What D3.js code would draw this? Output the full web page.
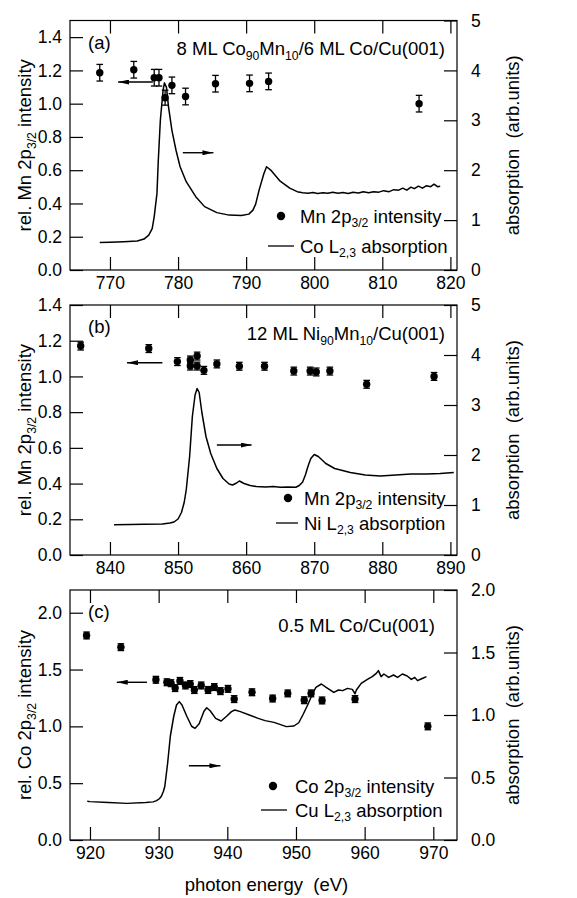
<!DOCTYPE html>
<html>
<head>
<meta charset="utf-8">
<script src="https://cdn.jsdelivr.net/npm/d3@7"></script>
<style>
  body { margin: 0; background: #fff; }
  text { font-family: "Liberation Sans", Arial, Helvetica, sans-serif; fill: #000; white-space: pre; }
</style>
</head>
<body>
<script>
// ---- panel (a): 8 ML Co90Mn10/6 ML Co/Cu(001) ----
var aE   = [768.5, 773.5, 776.5, 777.2, 778.1, 779.1, 781.1, 785.5, 790.5, 793.3, 815.4];
var aI   = [1.186, 1.204, 1.156, 1.156, 1.036, 1.110, 1.043, 1.120, 1.122, 1.134, 1.000];
var aErr = [0.050, 0.050, 0.050, 0.050, 0.045, 0.050, 0.050, 0.050, 0.050, 0.050, 0.050];
var aAbs = [[768.5,0.55],[770,0.555],[772,0.565],[774,0.58],[775,0.62],[775.7,0.70],[776.2,0.83],
  [776.5,1.07],[776.9,1.53],[777.1,2.2],[777.4,3.0],[777.8,3.6],[778.0,3.75],[778.3,3.66],[778.6,3.27],
  [779.1,2.8],[779.7,2.4],[780.3,2.07],[781.2,1.77],[782.6,1.47],[783.9,1.27],[785.7,1.15],[787.5,1.10],
  [789.3,1.09],[790.4,1.12],[791.0,1.2],[791.4,1.32],[791.9,1.6],[792.6,1.93],[793.0,2.07],[793.7,1.99],
  [795.0,1.78],[796.4,1.64],[797.5,1.57],[798.3,1.55],[799.1,1.54],[799.8,1.555],[800.5,1.535],[801.3,1.55],
  [802,1.54],[802.7,1.56],[803.5,1.54],[804.2,1.555],[805,1.535],[805.7,1.56],[806.5,1.545],[807.2,1.57],
  [808,1.55],[808.7,1.57],[809.5,1.56],[810.2,1.59],[811,1.57],[811.7,1.61],[812.4,1.6],[813,1.64],
  [813.6,1.6],[814.2,1.66],[814.7,1.63],[815.3,1.68],[815.9,1.64],[816.5,1.69],[817.1,1.67],[817.6,1.72],
  [818.1,1.67],[818.5,1.68]];
var aXTicks = [770, 780, 790, 800, 810, 820];
var aLTicks = [0, 0.2, 0.4, 0.6, 0.8, 1.0, 1.2, 1.4];
var aRTicks = [0, 1, 2, 3, 4, 5];

// ---- panel (b): 12 ML Ni90Mn10/Cu(001) ----
var bE   = [835.7, 845.7, 849.9, 851.8, 851.8, 852.8, 852.8, 853.8, 855.7, 859.0, 862.7, 867.0, 869.4, 870.3, 872.3, 877.7, 887.6];
var bI   = [1.170, 1.156, 1.083, 1.092, 1.058, 1.114, 1.058, 1.034, 1.070, 1.057, 1.057, 1.030, 1.030, 1.025, 1.030, 0.956, 1.000];
var bErr = [0.022, 0.022, 0.022, 0.022, 0.022, 0.022, 0.022, 0.022, 0.022, 0.022, 0.022, 0.022, 0.022, 0.022, 0.022, 0.022, 0.022];
var bAbs = [[840.6,0.607],[843,0.61],[845,0.615],[847.7,0.62],[848.8,0.64],[849.4,0.66],[850,0.72],
  [850.5,0.85],[850.9,1.05],[851.2,1.3],[851.7,1.97],[852.1,2.77],[852.5,3.2],[852.8,3.33],[853.1,3.25],
  [853.5,2.85],[854.1,2.37],[854.8,2.03],[855.7,1.73],[856.6,1.53],[857.5,1.42],[858.0,1.40],[858.6,1.44],
  [859.0,1.48],[859.7,1.43],[860.6,1.39],[861.5,1.37],[862.8,1.36],[864,1.37],[865,1.355],[866.2,1.36],
  [867.3,1.355],[867.8,1.39],[868.3,1.46],[868.7,1.6],[869.1,1.78],[869.5,1.93],[870.0,2.01],[870.6,1.97],
  [871.7,1.83],[873.0,1.73],[875.3,1.65],[877.5,1.60],[879.7,1.58],[882,1.6],[884.2,1.62],[886.5,1.62],
  [888.5,1.63],[890.5,1.65]];
var bXTicks = [840, 850, 860, 870, 880, 890];
var bLTicks = [0, 0.2, 0.4, 0.6, 0.8, 1.0, 1.2, 1.4];
var bRTicks = [0, 1, 2, 3, 4, 5];

// ---- panel (c): 0.5 ML Co/Cu(001) ----
var cE   = [919.5, 924.5, 929.6, 931.2, 931.8, 932.4, 933.1, 933.9, 934.6, 935.2, 936.2, 937.2, 938.1, 939.0, 940.1, 941.0, 943.6, 946.6, 948.8, 951.2, 952.2, 953.8, 958.6, 969.2];
var cI   = [1.80, 1.697, 1.41, 1.388, 1.38, 1.337, 1.40, 1.36, 1.372, 1.32, 1.36, 1.32, 1.346, 1.31, 1.33, 1.24, 1.30, 1.245, 1.29, 1.23, 1.29, 1.228, 1.24, 1.0];
var cErr = [0.03, 0.03, 0.03, 0.03, 0.03, 0.03, 0.03, 0.03, 0.03, 0.03, 0.03, 0.03, 0.03, 0.03, 0.03, 0.03, 0.03, 0.03, 0.03, 0.03, 0.03, 0.03, 0.03, 0.03];
var cAbs = [[919.6,0.31],[920,0.307],[922.7,0.30],[925.4,0.293],[928.1,0.30],[929.2,0.305],[929.7,0.315],
  [930.1,0.33],[930.4,0.35],[930.7,0.39],[930.9,0.43],[931.3,0.61],[931.7,0.83],[932.2,0.99],[932.6,1.08],
  [933.0,1.107],[933.4,1.08],[934.1,0.99],[934.8,0.91],[935.3,0.893],[935.9,0.93],[936.6,1.03],[937.0,1.058],
  [937.5,1.034],[938.3,0.973],[939.1,0.952],[939.9,0.99],[940.6,1.027],[941.1,1.04],[941.9,1.027],[943.2,1.0],
  [944.5,0.973],[945.5,0.955],[946.8,0.941],[948.6,0.907],[949.7,0.912],[950.4,0.938],[951.0,1.0],[951.7,1.08],
  [952.4,1.168],[952.9,1.221],[953.7,1.248],[954.4,1.221],[955.5,1.181],[956.2,1.2],[956.8,1.195],[957.5,1.213],
  [958.2,1.205],[958.6,1.17],[958.8,1.2],[959.5,1.253],[960.4,1.285],[961.1,1.307],[961.7,1.333],[962.0,1.355],
  [962.4,1.307],[962.8,1.328],[963.5,1.301],[964.2,1.32],[964.8,1.301],[965.5,1.328],[966.2,1.312],[966.8,1.285],
  [967.3,1.301],[967.7,1.275],[968.3,1.29],[969.0,1.307]];
var cXTicks = [920, 930, 940, 950, 960, 970];
var cLTicks = [0, 0.5, 1.0, 1.5, 2.0];
var cRTicks = [0, 0.5, 1.0, 1.5, 2.0];

// arrows: [x from, x to, y value] ; first on left scale, second on right scale
var aArrows = [[776.3, 771.2, 1.13], [780.7, 785.2, 2.35]];
var bArrows = [[847.7, 842.5, 1.077], [855.7, 860.8, 2.2]];
var cArrows = [[928.3, 923.9, 1.388], [934.4, 939.0, 0.594]];

var w = 577, h = 898;
var plotL = 70, plotR = 457, tickLen = 13, fs = 18.5, tfs = 17.5;

var svg = d3.select("body").append("svg")
            .attr("width", w)
            .attr("height", h);

svg.append("defs").append("marker")
   .attr("id", "head")
   .attr("viewBox", "0 0 11 5")
   .attr("refX", 11).attr("refY", 2.5)
   .attr("markerWidth", 11).attr("markerHeight", 5)
   .attr("markerUnits", "userSpaceOnUse")
   .attr("orient", "auto")
   .append("path").attr("d", "M0,0L11,2.5L0,5Z").attr("fill", "#000");

/* writes "Mn 2p_{3/2}" style strings as tspans with subscripts */
function rich(sel, str, size) {
  var parts = str.split(/(_\{[^}]*\})/), shift = 0;
  parts.forEach(function(p) {
    if (!p) return;
    var sub = p.indexOf("_{") === 0;
    var t = sel.append("tspan").text(sub ? p.slice(2, -1) : p);
    var target = sub ? size * 0.26 : 0;
    if (target !== shift) { t.attr("dy", target - shift); shift = target; }
    if (sub) t.attr("font-size", size * 0.66);
  });
  return sel;
}

var makePanel = function(p) {
  var x  = d3.scaleLinear().domain(p.xDom).range([plotL, plotR]);
  var yL = d3.scaleLinear().domain(p.yLDom).range([p.bottom, p.top]);
  var yR = d3.scaleLinear().domain(p.yRDom).range([p.bottom, p.top]);
  var g = svg.append("g");

  /*** Axes, all ticks point inward ***/
  g.append("g").attr("transform", "translate(0," + p.bottom + ")")
     .call(d3.axisBottom(x).tickValues(p.xTicks).tickSizeInner(-tickLen).tickSizeOuter(0)
             .tickPadding(7).tickFormat(d3.format("d")));
  g.append("g").attr("transform", "translate(0," + p.top + ")")
     .call(d3.axisTop(x).tickValues(p.xTicks).tickSizeInner(-tickLen).tickSizeOuter(0).tickFormat(""));
  g.append("g").attr("transform", "translate(" + plotL + ",0)")
     .call(d3.axisLeft(yL).tickValues(p.yLTicks).tickSizeInner(-tickLen).tickSizeOuter(0)
             .tickPadding(8).tickFormat(d3.format(".1f")));
  g.append("g").attr("transform", "translate(" + plotR + ",0)")
     .call(d3.axisRight(yR).tickValues(p.yRTicks).tickSizeInner(-tickLen).tickSizeOuter(0)
             .tickPadding(14).tickFormat(p.rFmt));
  g.selectAll(".domain").remove();
  g.selectAll(".tick line").attr("stroke", "#000").attr("stroke-width", 1.2);
  g.selectAll(".tick text").attr("font-size", tfs).attr("font-family", null).attr("fill", "#000");

  g.append("rect")
   .attr("x", plotL).attr("y", p.top)
   .attr("width", plotR - plotL).attr("height", p.bottom - p.top)
   .attr("fill", "none").attr("stroke", "#000").attr("stroke-width", 1.2);

  /*** absorption curve on right axis ***/
  g.append("path")
   .datum(p.abs)
   .attr("fill", "none").attr("stroke", "#000").attr("stroke-width", 1.5)
   .attr("stroke-linejoin", "round")
   .attr("d", d3.line().x(function(d) { return x(d[0]); }).y(function(d) { return yR(d[1]); }));

  /*** intensity points with error bars on left axis ***/
  var pts = p.E.map(function(e, i) { return {e: e, v: p.I[i], err: p.err[i]}; });
  var eb = g.append("g").attr("stroke", "#000").attr("stroke-width", 1.3);
  eb.selectAll(".bar").data(pts).enter().append("line")
    .attr("x1", function(d) { return x(d.e); }).attr("x2", function(d) { return x(d.e); })
    .attr("y1", function(d) { return yL(d.v - d.err); }).attr("y2", function(d) { return yL(d.v + d.err); });
  [-1, 1].forEach(function(s) {
    eb.selectAll(".cap" + s).data(pts).enter().append("line")
      .attr("x1", function(d) { return x(d.e) - 3.3; }).attr("x2", function(d) { return x(d.e) + 3.3; })
      .attr("y1", function(d) { return yL(d.v + s * d.err); }).attr("y2", function(d) { return yL(d.v + s * d.err); });
  });
  g.selectAll(".pt").data(pts).enter().append("circle")
   .attr("cx", function(d) { return x(d.e); })
   .attr("cy", function(d) { return yL(d.v); })
   .attr("r", 3.7).attr("fill", "#000");

  /*** arrows ***/
  p.arrows.forEach(function(a, i) {
    var ys = i === 0 ? yL : yR;
    g.append("line")
     .attr("x1", x(a[0])).attr("x2", x(a[1]))
     .attr("y1", ys(a[2])).attr("y2", ys(a[2]))
     .attr("stroke", "#000").attr("stroke-width", 1.4)
     .attr("marker-end", "url(#head)");
  });

  /*** labels ***/
  g.append("text").attr("x", 88).attr("y", p.tagY).attr("font-size", fs).text(p.tag);
  rich(g.append("text").attr("x", p.sampleX).attr("y", p.sampleY).attr("font-size", fs)
        .attr("text-anchor", "end"), p.sample, fs);

  var mid = (p.top + p.bottom) / 2;
  rich(g.append("text").attr("transform", "translate(31," + mid + ")rotate(-90)")
        .attr("text-anchor", "middle").attr("font-size", fs), p.leftTitle, fs);
  g.append("text").attr("transform", "translate(519," + mid + ")rotate(-90)")
   .attr("text-anchor", "middle").attr("font-size", fs).text("absorption  (arb.units)");

  /*** legend ***/
  var lg = p.legend;
  g.append("circle").attr("cx", lg.dot).attr("cy", lg.y1).attr("r", 4.2).attr("fill", "#000");
  rich(g.append("text").attr("x", lg.tx).attr("y", lg.y1 + 6.5).attr("font-size", fs), p.ptLabel, fs);
  g.append("line").attr("x1", lg.l1).attr("x2", lg.l2)
   .attr("y1", lg.y2).attr("y2", lg.y2).attr("stroke", "#000").attr("stroke-width", 1.3);
  rich(g.append("text").attr("x", lg.tx).attr("y", lg.y2 + 6.5).attr("font-size", fs), p.absLabel, fs);

  if (p.xTitle) {
    g.append("text").attr("x", (plotL + plotR) / 2 + 3).attr("y", 891)
     .attr("text-anchor", "middle").attr("font-size", fs).text(p.xTitle);
  }
};

makePanel({
  top: 20.5, bottom: 270, xDom: [764.13, 820.97], xTicks: aXTicks,
  yLDom: [0, 1.5], yLTicks: aLTicks, yRDom: [0, 5], yRTicks: aRTicks, rFmt: d3.format("d"),
  E: aE, I: aI, err: aErr, abs: aAbs, arrows: aArrows,
  tag: "(a)", tagY: 49, sample: "8 ML Co_{90}Mn_{10}/6 ML Co/Cu(001)", sampleX: 445, sampleY: 55,
  leftTitle: "rel. Mn 2p_{3/2} intensity",
  ptLabel: "Mn 2p_{3/2} intensity", absLabel: "Co L_{2,3} absorption",
  legend: {dot: 281, l1: 268, l2: 294, tx: 300, y1: 216, y2: 246}
});
makePanel({
  top: 305, bottom: 555, xDom: [834.13, 890.97], xTicks: bXTicks,
  yLDom: [0, 1.4], yLTicks: bLTicks, yRDom: [0, 5], yRTicks: bRTicks, rFmt: d3.format("d"),
  E: bE, I: bI, err: bErr, abs: bAbs, arrows: bArrows,
  tag: "(b)", tagY: 333, sample: "12 ML Ni_{90}Mn_{10}/Cu(001)", sampleX: 445, sampleY: 340,
  leftTitle: "rel. Mn 2p_{3/2} intensity",
  ptLabel: "Mn 2p_{3/2} intensity", absLabel: "Ni L_{2,3} absorption",
  legend: {dot: 288, l1: 276, l2: 298, tx: 304, y1: 498, y2: 523}
});
makePanel({
  top: 590, bottom: 840, xDom: [917.09, 973.45], xTicks: cXTicks,
  yLDom: [0, 2.2], yLTicks: cLTicks, yRDom: [0, 2], yRTicks: cRTicks, rFmt: d3.format(".1f"),
  E: cE, I: cI, err: cErr, abs: cAbs, arrows: cArrows,
  tag: "(c)", tagY: 618, sample: "0.5 ML Co/Cu(001)", sampleX: 435, sampleY: 632,
  leftTitle: "rel. Co 2p_{3/2} intensity",
  ptLabel: "Co 2p_{3/2} intensity", absLabel: "Cu L_{2,3} absorption",
  legend: {dot: 273, l1: 261, l2: 287, tx: 295, y1: 786, y2: 810},
  xTitle: "photon energy  (eV)"
});
</script>
</body>
</html>
